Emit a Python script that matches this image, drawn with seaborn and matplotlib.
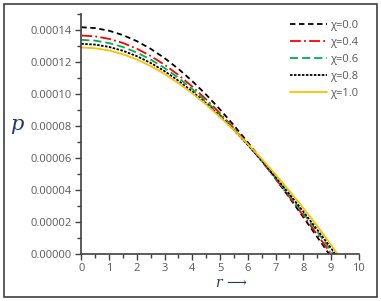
import numpy as np
import pandas as pd
import matplotlib
matplotlib.use("Agg")
import matplotlib.pyplot as plt
from matplotlib.patches import Rectangle
from matplotlib.ticker import MultipleLocator, FuncFormatter
import seaborn as sns

SCALE = 1e-4  # values below are in units of 1e-4

r_chi00 = [0, 0.5, 1, 1.5, 2, 2.5, 3, 3.5, 4, 4.5, 5, 5.5, 6, 6.5, 7, 7.5, 8, 8.5, 8.92]
p_chi00 = [1.419, 1.4135, 1.3970, 1.3698, 1.3319, 1.2837, 1.2256, 1.1579, 1.0813, 0.9963,
           0.9036, 0.8039, 0.6979, 0.5866, 0.4707, 0.3512, 0.2289, 0.1049, 0.0]

r_chi04 = [0, 0.5, 1, 1.5, 2, 2.5, 3, 3.5, 4, 4.5, 5, 5.5, 6, 6.5, 7, 7.5, 8, 8.5, 9.0]
p_chi04 = [1.367, 1.3618, 1.3462, 1.3204, 1.2846, 1.2389, 1.1839, 1.1198, 1.0472, 0.9666,
           0.8800, 0.7860, 0.6855, 0.5800, 0.4695, 0.3560, 0.2390, 0.1200, 0.0]

r_chi06 = [0, 0.5, 1, 1.5, 2, 2.5, 3, 3.5, 4, 4.5, 5, 5.5, 6, 6.5, 7, 7.5, 8, 8.5, 9.0, 9.08]
p_chi06 = [1.340, 1.3350, 1.3200, 1.2951, 1.2606, 1.2166, 1.1635, 1.1018, 1.0317, 0.9550,
           0.8710, 0.7810, 0.6840, 0.5820, 0.4760, 0.3660, 0.2530, 0.1380, 0.0200, 0.0]

r_chi08 = [0, 0.5, 1, 1.5, 2, 2.5, 3, 3.5, 4, 4.5, 5, 5.5, 6, 6.5, 7, 7.5, 8, 8.5, 9.0, 9.14]
p_chi08 = [1.315, 1.3101, 1.2956, 1.2714, 1.2379, 1.1952, 1.1437, 1.0837, 1.0160, 0.9420,
           0.8620, 0.7750, 0.6820, 0.5840, 0.4810, 0.3740, 0.2640, 0.1510, 0.0350, 0.0]

r_chi10 = [0, 0.5, 1, 1.5, 2, 2.5, 3, 3.5, 4, 4.5, 5, 5.5, 6, 6.5, 7, 7.5, 8, 8.5, 9.0, 9.22]
p_chi10 = [1.292, 1.2873, 1.2732, 1.2499, 1.2174, 1.1761, 1.1262, 1.0681, 1.0050, 0.9340,
           0.8560, 0.7750, 0.6870, 0.5940, 0.4960, 0.3930, 0.2860, 0.1740, 0.0560, 0.0]

labels = ["χ=0.0", "χ=0.4", "χ=0.6", "χ=0.8", "χ=1.0"]
x_ticks = list(range(0, 11))

series = [
    (r_chi00, p_chi00, labels[0], "#000000", (0, (3.0, 2.0))),
    (r_chi04, p_chi04, labels[1], "#FF0000", (0, (6.0, 1.8, 1.0, 1.8))),
    (r_chi06, p_chi06, labels[2], "#00B050", (0, (4.5, 2.2))),
    (r_chi08, p_chi08, labels[3], "#000000", (0, (1.4, 0.8))),
    (r_chi10, p_chi10, labels[4], "#FFC000", "-"),
]

sns.set_theme(style="white")
plt.rcParams["font.family"] = ["Open Sans", "DejaVu Sans"]

fig = plt.figure(figsize=(3.81, 3.01), dpi=100)
ax = fig.add_axes([81.3 / 381, 1 - 253.7 / 301, (358.8 - 81.3) / 381, (253.7 - 14.3) / 301])

for r, p, lab, col, ls in series:
    df = pd.DataFrame({"r": r, "p": np.array(p) * SCALE})
    sns.lineplot(data=df, x="r", y="p", ax=ax, color=col, linestyle=ls,
                 linewidth=1.3, label=lab, sort=True, estimator=None)

ax.set_xlim(0, 10)
ax.set_ylim(0, 0.00015)
ax.set_xticks(x_ticks)
ax.xaxis.set_minor_locator(MultipleLocator(0.5))
ax.yaxis.set_major_locator(MultipleLocator(0.00002))
ax.yaxis.set_minor_locator(MultipleLocator(0.00001))
ax.yaxis.set_major_formatter(FuncFormatter(lambda v, pos: f"{v:.5f}"))
ax.set_xlabel("")
ax.set_ylabel("")

for side in ["top", "right"]:
    ax.spines[side].set_visible(False)
for side in ["left", "bottom"]:
    ax.spines[side].set_color("#404040")
    ax.spines[side].set_linewidth(1.2)

ax.tick_params(axis="both", which="major", direction="out", length=4, width=1.0,
               color="#404040", labelcolor="#595959", labelsize=8, pad=3,
               left=True, bottom=True)
ax.tick_params(axis="both", which="minor", direction="out", length=3, width=1.0,
               color="#404040", left=True, bottom=True)

leg = ax.legend(loc="upper right", bbox_to_anchor=(1.015, 0.995), frameon=False,
                fontsize=8, labelcolor="#595959", handlelength=3.3,
                handletextpad=0.3, labelspacing=0.55, borderaxespad=0.0)

fig.text(17 / 381, 1 - 124 / 301, "p", fontsize=15, style="italic",
         family="DejaVu Serif", color="#1F3864", ha="center", va="center")
fig.text(231 / 381, 1 - 283 / 301, "r ⟶", fontsize=10, style="italic",
         family="DejaVu Serif", color="#1F3864", ha="center", va="center")

fig.patches.append(Rectangle((4 / 381, 4 / 301), 373 / 381, 293 / 301,
                             transform=fig.transFigure, fill=False,
                             edgecolor="#404040", linewidth=1.2))

fig.savefig("out.png", dpi=100)
